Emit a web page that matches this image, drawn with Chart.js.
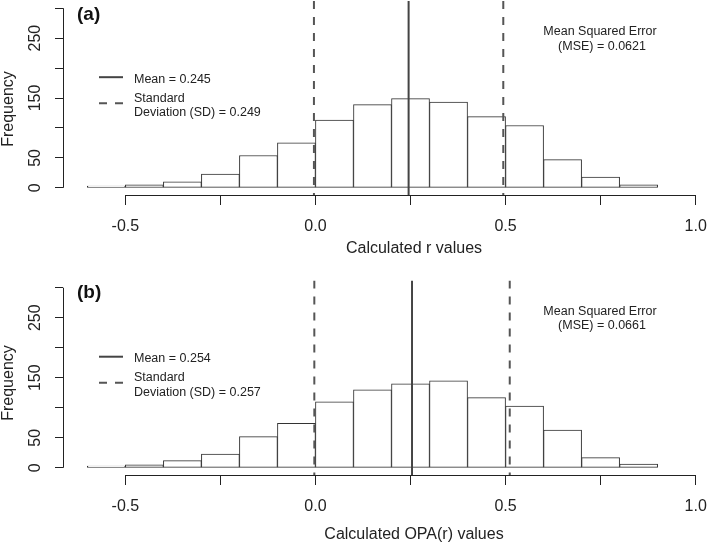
<!DOCTYPE html>
<html><head><meta charset="utf-8">
<script src="https://cdn.jsdelivr.net/npm/chart.js@4"></script>
<style>
html,body{margin:0;padding:0;background:#fff;overflow:hidden;}
#wrap{position:relative;width:708px;height:545px;background:#fff;overflow:hidden;}
canvas{position:absolute;left:0;}
</style></head><body>
<div id="wrap">
<canvas id="c1" width="760" height="270" style="top:0"></canvas>
<canvas id="c2" width="760" height="275" style="top:270px"></canvas>
</div>
<script>
// ---- data ----
const binCenters = [-0.55,-0.45,-0.35,-0.25,-0.15,-0.05,0.05,0.15,0.25,0.35,0.45,0.55,0.65,0.75,0.85];
const freqR   = [3,5,10,23,54,75,113,139,149,143,119,104,47,18,5];
const freqOPA = [3,5,12,23,52,74,110,130,140,145,117,103,63,17,6];
const meanR = 0.245, sdR = 0.249, mseR = '0.0621';
const meanOPA = 0.254, sdOPA = 0.257, mseOPA = '0.0661';
const xTicks = [-0.5,-0.25,0,0.25,0.5,0.75,1.0];
const xTickLabels = ['-0.5','','0.0','','0.5','','1.0'];
const yTicks = [0,50,100,150,200,250,300];
const yTickLabels = ['0','50','','150','','250',''];
const xMin = -0.664, xMax = 1.064, yMin = -12, yMax = 312;

const FONT = "'Liberation Sans', Arial, Helvetica, sans-serif";

function makePanel(id, freq, mean, sd, tag, mse, xTitle, o) {
  const vline = (x, color, dash) => ({
    type: 'line', order: 1,
    data: [{x: x, y: yMax}, {x: x, y: yMin}],
    borderColor: color, borderWidth: 2, borderDash: dash,
    pointRadius: 0, fill: false, tension: 0
  });
  const deco = {
    id: 'deco' + id,
    afterDraw(chart) {
      const ctx = chart.ctx, xs = chart.scales.x, ys = chart.scales.y;
      const ca = chart.chartArea;
      const y300 = ys.getPixelForValue(300);
      ctx.save();
      // axis lines (R style, from first to last tick)
      ctx.strokeStyle = '#222'; ctx.lineWidth = 1;
      ctx.beginPath();
      ctx.moveTo(ca.left + 0.5, ys.getPixelForValue(0));
      ctx.lineTo(ca.left + 0.5, y300);
      ctx.moveTo(xs.getPixelForValue(-0.5), ca.bottom + 0.5);
      ctx.lineTo(xs.getPixelForValue(1.0), ca.bottom + 0.5);
      ctx.stroke();
      // y tick labels (rotated, R style)
      ctx.fillStyle = '#222';
      ctx.font = '16px ' + FONT;
      ctx.textAlign = 'center'; ctx.textBaseline = 'alphabetic';
      yTicks.forEach((v, i) => {
        const t = yTickLabels[i];
        if (!t) return;
        ctx.save();
        ctx.translate(ca.left - 23.5, ys.getPixelForValue(v));
        ctx.rotate(-Math.PI / 2);
        ctx.fillText(t, 0, 0);
        ctx.restore();
      });
      // panel tag
      ctx.fillStyle = '#111';
      ctx.font = 'bold 19px ' + FONT;
      ctx.textAlign = 'left'; ctx.textBaseline = 'middle';
      ctx.fillText(tag, ca.left + 14, y300 + o.tagDy);
      // legend
      ctx.strokeStyle = '#444'; ctx.lineWidth = 2;
      ctx.beginPath();
      ctx.moveTo(ca.left + 36, y300 + 69); ctx.lineTo(ca.left + 60, y300 + 69);
      ctx.stroke();
      ctx.strokeStyle = '#555'; ctx.setLineDash([8, 8]);
      ctx.beginPath();
      ctx.moveTo(ca.left + 36, y300 + 95); ctx.lineTo(ca.left + 60, y300 + 95);
      ctx.stroke();
      ctx.setLineDash([]);
      ctx.fillStyle = '#222';
      ctx.font = '12.5px ' + FONT;
      ctx.fillText('Mean = ' + mean.toFixed(3), ca.left + 71, y300 + 71);
      ctx.fillText('Standard', ca.left + 71, y300 + 90);
      ctx.fillText('Deviation (SD) = ' + sd.toFixed(3), ca.left + 71, y300 + 104.5);
      // MSE
      ctx.textAlign = 'center';
      ctx.fillText('Mean Squared Error', 600, y300 + 23.5);
      ctx.fillText('(MSE) = ' + mse, 602, y300 + 38);
      // axis titles
      ctx.font = '16px ' + FONT;
      ctx.fillStyle = '#222';
      ctx.fillText(xTitle, 414, ca.bottom + o.xTitleDy);
      ctx.save();
      ctx.translate(9, o.yTitleY);
      ctx.rotate(-Math.PI / 2);
      ctx.fillText('Frequency', 0, 0);
      ctx.restore();
      ctx.restore();
    }
  };
  return new Chart(document.getElementById(id), {
    type: 'bar',
    data: {
      datasets: [
        {
          type: 'bar', order: 2,
          data: binCenters.map((c, i) => ({x: c, y: freq[i]})),
          backgroundColor: '#ffffff', borderColor: '#333', borderWidth: 1,
          borderSkipped: false, barPercentage: 1, categoryPercentage: 1, grouped: false
        },
        vline(mean, '#444', []),
        vline(mean - sd, '#555', [8, 8]),
        vline(mean + sd, '#555', [8, 8])
      ]
    },
    options: {
      responsive: false, animation: false, devicePixelRatio: 1,
      layout: { padding: {top: o.top, left: 0, right: 40, bottom: 0}, autoPadding: false },
      plugins: { legend: {display: false}, tooltip: {enabled: false} },
      scales: {
        x: {
          type: 'linear', min: xMin, max: xMax, offset: false,
          afterBuildTicks: s => { s.ticks = xTicks.map(v => ({value: v})); },
          afterFit: s => { s.height = o.xAxisH; },
          ticks: {
            autoSkip: false, maxRotation: 0, minRotation: 0, padding: 12,
            color: '#222', font: {family: FONT, size: 16},
            callback: v => xTickLabels[xTicks.indexOf(v)]
          },
          grid: {offset: false, drawOnChartArea: false, drawTicks: true, tickLength: 10, color: '#222', lineWidth: 1},
          border: {display: false}
        },
        y: {
          type: 'linear', min: yMin, max: yMax,
          afterBuildTicks: s => { s.ticks = yTicks.map(v => ({value: v})); },
          afterFit: s => { s.width = 63; },
          ticks: { display: false },
          grid: {offset: false, drawOnChartArea: false, drawTicks: true, tickLength: 8, color: '#222', lineWidth: 1},
          border: {display: false}
        }
      }
    },
    plugins: [deco]
  });
}

makePanel('c1', freqR, meanR, sdR, '(a)', mseR, 'Calculated r values',
  {top: 1, xAxisH: 75, tagDy: 7, xTitleDy: 54, yTitleY: 109});
makePanel('c2', freqOPA, meanOPA, sdOPA, '(b)', mseOPA, 'Calculated OPA(r) values',
  {top: 10.5, xAxisH: 70, tagDy: 5, xTitleDy: 60, yTitleY: 113});
</script>
</body></html>
